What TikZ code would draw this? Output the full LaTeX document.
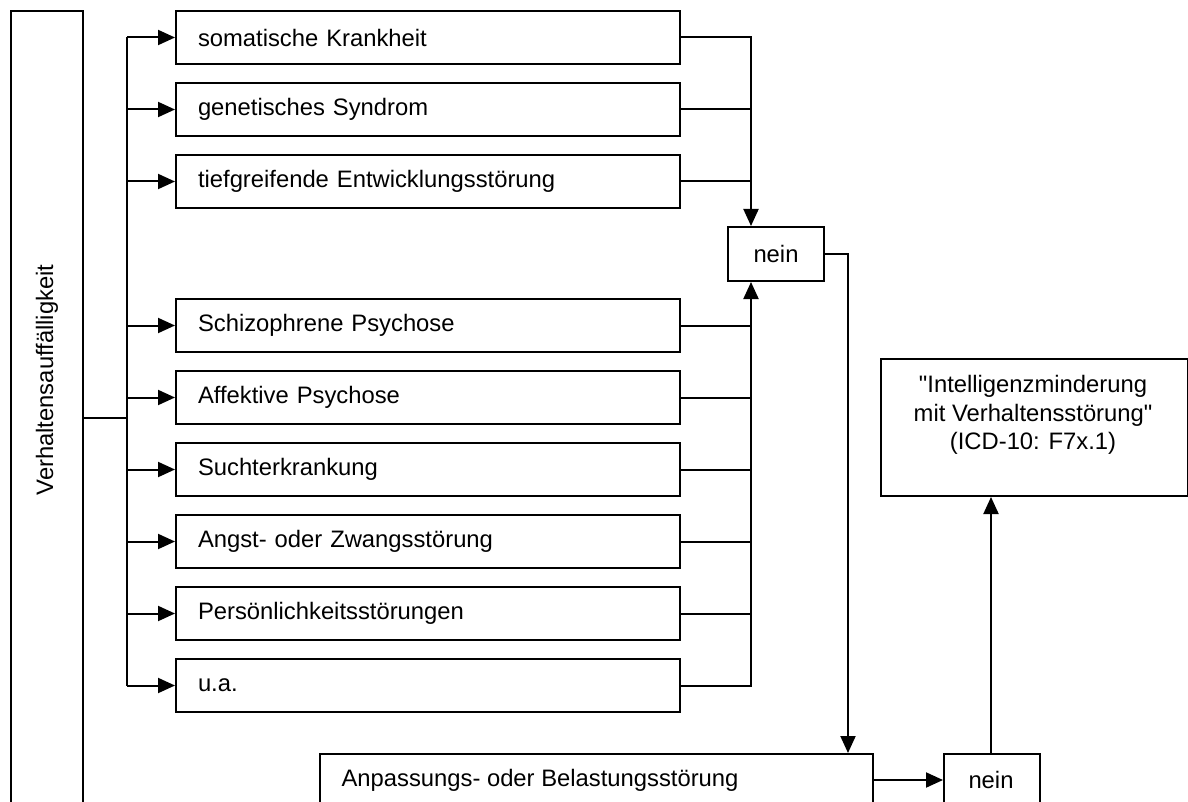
\documentclass[tikz,border=0pt]{standalone}
\usepackage{fontspec}
\setmainfont{Liberation Sans}
\usetikzlibrary{arrows.meta}
\begin{document}
\begin{tikzpicture}[x=1pt,y=-1pt,
  every node/.style={font=\fontsize{23.8}{28.5}\selectfont},
  ln/.style={line width=2pt},
  arr/.style={ln,-{Triangle[length=17pt,width=15pt]}},
  lbox/.style={draw,ln,rectangle,anchor=north west,minimum height=53pt,text width=460pt,inner xsep=22pt,inner ysep=0pt,align=left},
  sbox/.style={draw,ln,rectangle,anchor=north west,minimum width=96pt,minimum height=54pt,inner sep=0pt}
]
\useasboundingbox (0,0) rectangle (1188,802);
\clip (0,0) rectangle (1188,802);
\fill[white] (0,0) rectangle (1188,802);

% left tall box
\node[draw,ln,rectangle,anchor=north west,minimum width=72pt,minimum height=820pt,inner sep=0pt] (va) at (10,10) {};
\node[rotate=90] (valabel) at (47,380) {Verhaltensauffälligkeit};

% condition boxes
\node[lbox] (b1) at (175,10) {somatische Krankheit};
\node[lbox] (b2) at (175,82) {genetisches Syndrom};
\node[lbox] (b3) at (175,154) {tiefgreifende Entwicklungsstörung};
\node[lbox] (b4) at (175,298) {Schizophrene Psychose};
\node[lbox] (b5) at (175,370) {Affektive Psychose};
\node[lbox] (b6) at (175,442) {Suchterkrankung};
\node[lbox] (b7) at (175,514) {Angst- oder Zwangsstörung};
\node[lbox] (b8) at (175,586) {Persönlichkeitsstörungen};
\node[lbox] (b9) at (175,658) {u.a.};

% nein boxes
\node[sbox] (n1) at (727,226) {nein};
\node[sbox,minimum height=60pt] (n2) at (943,753) {};
\node (n2t) at (991,780) {nein};

% Anpassung box
\node[draw,ln,rectangle,anchor=north west,minimum width=553pt,minimum height=60pt,inner sep=0pt] (anp) at (319,753) {};
\node[anchor=west] (anpt) at (319,780) {\hspace{19pt}Anpassungs- oder Belastungsstörung};

% final box
\node[draw,ln,rectangle,anchor=north west,minimum width=307pt,minimum height=137pt,inner sep=0pt] (fin) at (880,358) {};
\node[align=center] (fint) at (1033,415) {\textquotedbl Intelligenzminderung\\mit Verhaltensstörung\textquotedbl\\(ICD-10: F7x.1)};

% coordinates
\coordinate (tr) at (127,0);
\coordinate (jn) at (127,418);
\coordinate (mx) at (751,0);
\coordinate (dx) at (848,0);
\coordinate (ux) at (991,0);

% left trunk
\draw[ln] (jn -| va.east) -- (jn);
\draw[ln] (tr |- b1.west) -- (tr |- b9.west);
\foreach \b in {b1,b2,b3,b4,b5,b6,b7,b8,b9}{
  \draw[arr] (tr |- \b.west) -- (\b.west);
}

% right collectors
\draw[arr] (b1.east) -| (n1.north -| mx);
\draw[ln] (b2.east) -- (b2.east -| mx);
\draw[ln] (b3.east) -- (b3.east -| mx);
\draw[arr] (b9.east) -| (n1.south -| mx);
\foreach \b in {b4,b5,b6,b7,b8}{
  \draw[ln] (\b.east) -- (\b.east -| mx);
}

% nein to Anpassung
\draw[arr] (n1.east) -| (dx |- anp.north);
\draw[arr] (anp.east |- n2t) -- (n2.west |- n2t);
\draw[arr] (ux |- n2.north) -- (ux |- fin.south);
\end{tikzpicture}
\end{document}
